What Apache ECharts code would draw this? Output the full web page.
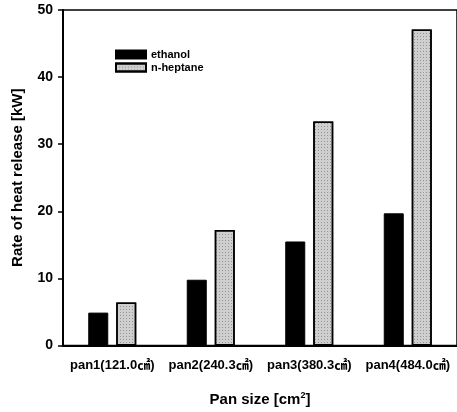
<!DOCTYPE html>
<html>
<head>
<meta charset="utf-8">
<style>
  html, body { margin: 0; padding: 0; background: #fff; }
  #chart { width: 457px; height: 412px; }
</style>
<script src="https://cdn.jsdelivr.net/npm/echarts@6/dist/echarts.min.js"></script>
</head>
<body>
<div id="chart"></div>
<script>
// pan sizes on the x axis
const categories = ['pan1(121.0㎠)', 'pan2(240.3㎠)', 'pan3(380.3㎠)', 'pan4(484.0㎠)']
const ethanol = [4.9, 9.8, 15.5, 19.7] // kW
const heptane = [6.4, 17.2, 33.4, 47.1] // kW
const yTicks = [0, 10, 20, 30, 40, 50]

const font = 'Liberation Sans, Arial, Noto Sans CJK SC, sans-serif'
const chart = echarts.init(document.getElementById('chart'), null, { renderer: 'canvas' })

chart.setOption({
  animation: false,
  textStyle: { fontFamily: font },
  grid: {
    left: 63,
    top: 10,
    width: 396,
    height: 336,
    show: true,
    borderColor: '#000',
    borderWidth: 1.5
  },
  legend: {
    left: 110,
    top: 44,
    orient: 'vertical',
    icon: 'rect',
    itemWidth: 30,
    itemHeight: 8,
    itemGap: 2,
    textStyle: { fontFamily: font, fontWeight: 'bold', fontSize: 11, color: '#000' },
    data: ['ethanol', 'n-heptane']
  },
  xAxis: {
    type: 'category',
    data: categories,
    name: 'Pan size [cm{sup|2}]',
    nameLocation: 'middle',
    nameGap: 46,
    nameTextStyle: {
      fontFamily: font, fontWeight: 'bold', fontSize: 15, color: '#000',
      rich: { sup: { fontSize: 9, fontWeight: 'bold', verticalAlign: 'top', padding: [0, 0, 7, 0] } }
    },
    axisLine: { lineStyle: { color: '#000', width: 2 } },
    axisTick: { alignWithLabel: true, length: 5, lineStyle: { color: '#000', width: 1.5 } },
    axisLabel: { color: '#000', fontWeight: 'bold', fontSize: 13, margin: 13, interval: 0 }
  },
  yAxis: {
    type: 'value',
    min: yTicks[0],
    max: yTicks[yTicks.length - 1],
    interval: 10,
    name: 'Rate of heat release [kW]',
    nameLocation: 'middle',
    nameGap: 38,
    nameTextStyle: { fontFamily: font, fontWeight: 'bold', fontSize: 15, color: '#000' },
    axisLine: { show: true, lineStyle: { color: '#000', width: 2 } },
    axisTick: { show: true, length: 5, lineStyle: { color: '#000', width: 1.5 } },
    axisLabel: { color: '#000', fontWeight: 'bold', fontSize: 14, margin: 10 },
    splitLine: { show: false }
  },
  series: [
    {
      name: 'ethanol',
      type: 'bar',
      data: ethanol,
      barWidth: 20,
      barGap: '40%',
      itemStyle: { color: '#000', borderColor: '#000', borderWidth: 1 }
    },
    {
      name: 'n-heptane',
      type: 'bar',
      data: heptane,
      barWidth: 20,
      itemStyle: {
        color: '#cfcfcf',
        borderColor: '#000',
        borderWidth: 1.5,
        decal: {
          symbol: 'rect',
          symbolSize: 1,
          color: 'rgba(90,90,90,0.5)',
          dashArrayX: [1, 2],
          dashArrayY: [1, 2],
          rotation: 0
        }
      }
    }
  ]
})
</script>
</body>
</html>
